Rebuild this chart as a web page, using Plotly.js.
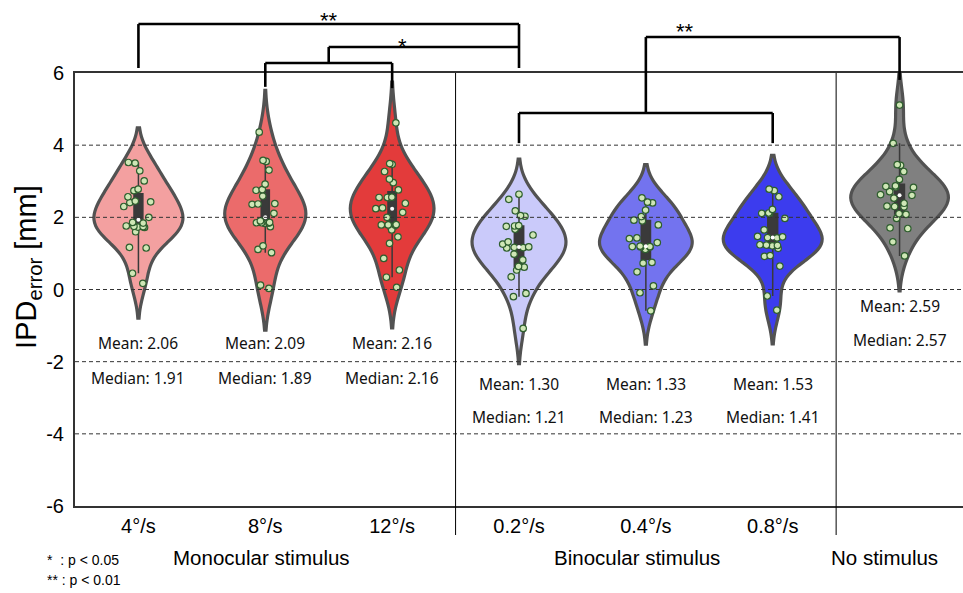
<!DOCTYPE html>
<html>
<head>
<meta charset="utf-8">
<script src="https://cdn.plot.ly/plotly-3.0.1.min.js"></script>
<style>html,body{margin:0;padding:0;background:#fff;}#chart{width:963px;height:593px;}</style>
</head>
<body>
<div id="chart"></div>
<script>
// ---------- data ----------
const categories = ['4°/s', '8°/s', '12°/s', '0.2°/s', '0.4°/s', '0.8°/s', 'none'];
const tickLabels = ['4°/s', '8°/s', '12°/s', '0.2°/s', '0.4°/s', '0.8°/s', ' '];

const mono4 = [3.52, 3.50, 3.29, 3.01, 2.78, 2.74, 2.57, 2.45, 2.43, 2.41, 2.30, 2.00, 1.86, 1.84, 1.76, 1.75, 1.74, 1.73, 1.72, 1.60, 1.17, 1.15, 0.45, 0.17];
const mono8 = [4.36, 3.58, 3.55, 3.31, 2.92, 2.77, 2.75, 2.59, 2.38, 2.37, 2.36, 2.11, 1.90, 1.86, 1.85, 1.85, 1.84, 1.83, 1.74, 1.21, 1.11, 1.02, 0.12, 0.03];
const mono12 = [4.62, 3.49, 3.47, 3.27, 3.06, 2.96, 2.76, 2.56, 2.55, 2.55, 2.54, 2.39, 2.26, 2.24, 2.14, 2.00, 1.80, 1.79, 1.79, 1.78, 1.65, 1.46, 1.28, 0.86, 0.54, 0.34, 0.06];
const bino02 = [2.64, 2.50, 2.18, 2.05, 2.03, 1.77, 1.76, 1.75, 1.67, 1.51, 1.32, 1.26, 1.18, 1.17, 1.16, 1.15, 0.98, 0.82, 0.64, 0.62, 0.54, 0.35, -0.11, -0.20, -1.08];
const bino04 = [2.54, 2.42, 2.40, 2.20, 2.02, 1.92, 1.90, 1.79, 1.43, 1.41, 1.30, 1.20, 1.19, 1.19, 1.18, 1.18, 1.11, 0.75, 0.73, 0.49, 0.10, -0.09, -0.59];
const bino08 = [2.78, 2.74, 2.57, 2.22, 2.12, 2.11, 2.10, 1.97, 1.65, 1.47, 1.46, 1.44, 1.43, 1.24, 1.23, 1.22, 1.21, 1.14, 0.94, 0.92, 0.65, -0.18, -0.57];
const noStim = [5.11, 4.05, 3.46, 3.44, 3.27, 3.05, 2.87, 2.86, 2.84, 2.83, 2.71, 2.63, 2.61, 2.53, 2.39, 2.31, 2.30, 2.29, 2.10, 2.08, 1.97, 1.71, 1.69, 1.32, 0.93];

const meanLabels = ['2.06', '2.09', '2.16', '1.30', '1.33', '1.53', '2.59'];
const medianLabels = ['1.91', '1.89', '2.16', '1.21', '1.23', '1.41', '2.57'];

const yTickVals = [-6, -4, -2, 0, 2, 4, 6];
const gridVals = [-4, -2, 0, 2, 4];
const groupNames = ['Monocular stimulus', 'Binocular stimulus', 'No stimulus'];
const sigLegend = ['*\u00a0\u00a0: p < 0.05', '** : p < 0.01'];

// ---------- styles ----------
const series = [mono4, mono8, mono12, bino02, bino04, bino08, noStim];
const fills = ['#f3a0a0', '#eb6b6b', '#e33b3b', '#cacafa', '#7373ef', '#3c3cee', '#808080'];
const violinWidths = [0.70, 0.64, 0.66, 0.74, 0.73, 0.78, 0.77];
const labelY = [[-1.48, -2.45], [-1.48, -2.45], [-1.48, -2.45], [-2.62, -3.53], [-2.62, -3.53], [-2.62, -3.53], [-0.46, -1.40]];

function median(a) {
  const s = a.slice().sort((p, q) => p - q);
  const m = Math.floor(s.length / 2);
  return s.length % 2 ? s[m] : (s[m - 1] + s[m]) / 2;
}
// Scott's rule bandwidth (as seaborn uses)
function scottBw(a) {
  const n = a.length;
  const mu = a.reduce((p, q) => p + q, 0) / n;
  const sd = Math.sqrt(a.reduce((p, q) => p + (q - mu) * (q - mu), 0) / (n - 1));
  return 1.06 * sd * Math.pow(n, -0.2);
}

const traces = series.map((vals, i) => ({
  type: 'violin',
  x: vals.map(() => categories[i]),
  y: vals,
  name: categories[i],
  width: violinWidths[i],
  scalemode: 'width',
  spanmode: 'soft',
  bandwidth: scottBw(vals),
  fillcolor: fills[i],
  line: { color: '#525252', width: 3.2 },
  points: 'all',
  pointpos: 0,
  jitter: 0.4,
  marker: { color: '#cfe7b6', size: 6.5, line: { color: '#2e5e2e', width: 1.2 } },
  box: { visible: true, width: 0.1, fillcolor: '#3a3a3a', line: { color: '#3a3a3a', width: 1.5 } },
  meanline: { visible: false },
  hoverinfo: 'skip',
  showlegend: false
}));

traces.push({
  type: 'scatter',
  mode: 'markers',
  x: categories,
  y: series.map(median),
  marker: { color: '#ffffff', size: 4, line: { width: 0 } },
  hoverinfo: 'skip',
  showlegend: false
});

// ---------- shapes ----------
const shapes = [];
gridVals.forEach(v => shapes.push({
  type: 'line', xref: 'paper', x0: 0, x1: 1, yref: 'y', y0: v, y1: v,
  line: { color: '#333333', width: 1, dash: '4px,3px' }, layer: 'above'
}));
[2.5, 5.5].forEach(x => shapes.push({
  type: 'line', xref: 'x', x0: x, x1: x, yref: 'paper', y0: -0.067, y1: 1,
  line: { color: '#000000', width: 1 }, layer: 'above'
}));
const BL = { color: '#000000', width: 2.6 };
function seg(x0, y0, x1, y1) {
  shapes.push({ type: 'line', xref: 'x', yref: 'paper', x0, x1, y0, y1, line: BL, layer: 'above' });
}
// bracket A (**): 4°/s -> 0.2°/s
seg(0, 1.0115, 0, 1.113); seg(0, 1.113, 3, 1.113); seg(3, 1.113, 3, 1.0115);
// bracket C: 8°/s - 12°/s
seg(1, 0.968, 1, 1.023); seg(1, 1.023, 2, 1.023); seg(2, 1.023, 2, 0.965);
// bracket B (*): from C mid to 0.2°/s
seg(1.5, 1.023, 1.5, 1.060); seg(1.5, 1.060, 3, 1.060);
// bracket D: binocular group
seg(3, 0.838, 3, 0.9076); seg(3, 0.9076, 5, 0.9076); seg(5, 0.9076, 5, 0.838);
// stem + bracket E (**): to no stimulus
seg(4, 0.9076, 4, 1.083); seg(4, 1.083, 6, 1.083); seg(6, 1.083, 6, 0.984);

// ---------- annotations ----------
const annotations = [];
const statFont = { family: 'Noto Sans', size: 15.5, color: '#111111' };
categories.forEach((c, i) => {
  annotations.push({ xref: 'x', yref: 'y', x: c, y: labelY[i][0], xanchor: 'center', yanchor: 'middle', text: 'Mean: ' + meanLabels[i], showarrow: false, font: statFont });
  annotations.push({ xref: 'x', yref: 'y', x: c, y: labelY[i][1], xanchor: 'center', yanchor: 'middle', text: 'Median: ' + medianLabels[i], showarrow: false, font: statFont });
});
const starFont = { family: 'Liberation Sans', size: 22, color: '#000' };
annotations.push({ xref: 'x', yref: 'paper', x: 1.5, y: 1.122, xanchor: 'center', yanchor: 'middle', text: '**', showarrow: false, font: starFont });
annotations.push({ xref: 'x', yref: 'paper', x: 2.08, y: 1.062, xanchor: 'center', yanchor: 'middle', text: '*', showarrow: false, font: starFont });
annotations.push({ xref: 'x', yref: 'paper', x: 4.31, y: 1.095, xanchor: 'center', yanchor: 'middle', text: '**', showarrow: false, font: starFont });

const groupX = [0.2095, 0.633, 0.912];
groupNames.forEach((g, i) => annotations.push({
  xref: 'paper', yref: 'paper', x: groupX[i], y: -0.118, xanchor: 'center', yanchor: 'middle', text: g, showarrow: false,
  font: { family: 'Liberation Sans', size: 20.5, color: '#000' }
}));
sigLegend.forEach((t, i) => annotations.push({
  xref: 'paper', yref: 'paper', x: -0.034, y: [-0.1247, -0.171][i], xanchor: 'left', yanchor: 'middle', text: t, showarrow: false,
  font: { family: 'Liberation Sans', size: 14, color: '#000' }
}));
annotations.push({
  xref: 'paper', yref: 'paper', x: -0.053, y: 0.552, xanchor: 'center', yanchor: 'middle', textangle: -90, showarrow: false,
  text: 'IPD<sub>error</sub> [mm]', font: { family: 'Liberation Sans', size: 29, color: '#000' }
});

const layout = {
  width: 963, height: 593,
  margin: { l: 75, r: 0, t: 73, b: 87 },
  paper_bgcolor: '#ffffff', plot_bgcolor: '#ffffff',
  font: { family: 'Liberation Sans', color: '#000' },
  violinmode: 'overlay',
  showlegend: false,
  xaxis: {
    type: 'category', categoryorder: 'array', categoryarray: categories,
    tickvals: categories, ticktext: tickLabels,
    range: [-0.5, 6.5], showgrid: false, zeroline: false,
    showline: true, mirror: true, linecolor: '#333333', linewidth: 2,
    ticks: '', ticklabelstandoff: 1,
    tickfont: { family: 'Liberation Sans', size: 20, color: '#000' }
  },
  yaxis: {
    range: [-6, 6], tickvals: yTickVals, ticktext: yTickVals.map(String),
    showgrid: false, zeroline: false,
    showline: true, linecolor: '#333333', linewidth: 2,
    ticks: '', ticklabelstandoff: 5,
    tickfont: { family: 'Liberation Sans', size: 20, color: '#000' }
  },
  shapes, annotations
};

Plotly.newPlot('chart', traces, layout, { displayModeBar: false, staticPlot: true });
</script>
</body>
</html>
